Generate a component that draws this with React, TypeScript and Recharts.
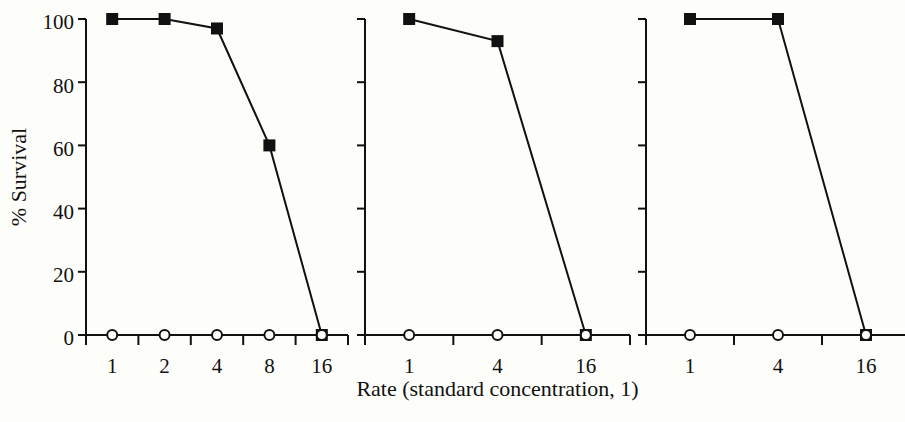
import React from "react";
import { LineChart, Line, XAxis, YAxis } from "recharts";

// rates (standard concentration = 1) shown in each panel
const ratesA = [1, 2, 4, 8, 16];
const ratesB = [1, 4, 16];
const ratesC = [1, 4, 16];

// % survival, filled squares
const squaresA = [100, 100, 97, 60, 0];
const squaresB = [100, 93, 0];
const squaresC = [100, 100, 0];

// % survival, open circles
const circlesA = [0, 0, 0, 0, 0];
const circlesB = [0, 0, 0];
const circlesC = [0, 0, 0];

const yTicks = [0, 20, 40, 60, 80, 100];

const FONT = '"Liberation Serif", "Times New Roman", serif';
const INK = "#111";

function buildRows(rates: number[], squares: number[], circles: number[]) {
  return rates.map((rate, i) => ({
    pos: i + 0.5,
    rate,
    squares: squares[i],
    circles: circles[i],
  }));
}

function tickPositions(n: number) {
  const out: number[] = [];
  for (let i = 0; i <= n * 2; i++) out.push(i / 2);
  return out;
}

const X_TICK = 10;

// tick marks sit on band edges, labels sit on band centres
function XTick(props: any) {
  const { x, y, payload, rates } = props;
  const v = payload.value;
  if (v % 1 === 0) {
    return <line x1={x} x2={x} y1={y - X_TICK} y2={y} stroke={INK} strokeWidth={2} />;
  }
  return (
    <text x={x} y={y + 28} textAnchor="middle" fill={INK} fontSize={21} fontFamily={FONT}>
      {rates[Math.floor(v)]}
    </text>
  );
}

function SquareDot(props: any) {
  const { cx, cy } = props;
  if (cx == null || cy == null) return null;
  return <rect x={cx - 6} y={cy - 6} width={12} height={12} fill={INK} />;
}

type PanelProps = {
  left: number;
  width: number;
  right: number;
  yWidth: number;
  rates: number[];
  squares: number[];
  circles: number[];
  showYLabels?: boolean;
  xTitle?: string;
};

function Panel({ left, width, right, yWidth, rates, squares, circles, showYLabels, xTitle }: PanelProps) {
  const rows = buildRows(rates, squares, circles);
  return (
    <div style={{ position: "absolute", left, top: 0 }}>
      <LineChart
        width={width}
        height={422}
        data={rows}
        margin={{ top: 19, right, bottom: 22, left: 0 }}
        style={{ overflow: "visible" }}
      >
        <XAxis
          type="number"
          dataKey="pos"
          domain={[0, rates.length]}
          ticks={tickPositions(rates.length)}
          interval={0}
          height={65}
          tickSize={X_TICK}
          tickMargin={0}
          tickLine={false}
          axisLine={{ stroke: INK, strokeWidth: 2 }}
          tick={(p: any) => <XTick {...p} rates={rates} />}
          label={
            xTitle
              ? {
                  value: xTitle,
                  position: "insideBottom",
                  offset: 4,
                  fill: INK,
                  fontSize: 22,
                  fontFamily: FONT,
                }
              : undefined
          }
        />
        <YAxis
          type="number"
          domain={[0, 100]}
          ticks={yTicks}
          interval={0}
          width={yWidth}
          tickSize={8}
          tickMargin={4}
          axisLine={{ stroke: INK, strokeWidth: 2 }}
          tickLine={{ stroke: INK, strokeWidth: 2 }}
          tick={{ fill: INK, fontSize: 21, fontFamily: FONT, dy: 3 }}
          tickFormatter={(v) => (showYLabels ? String(v) : "")}
          label={
            showYLabels
              ? {
                  value: "% Survival",
                  angle: -90,
                  position: "insideLeft",
                  offset: 18,
                  fill: INK,
                  fontSize: 22,
                  fontFamily: FONT,
                  style: { textAnchor: "middle" },
                }
              : undefined
          }
        />
        <Line
          dataKey="squares"
          stroke={INK}
          strokeWidth={2}
          dot={<SquareDot />}
          activeDot={false}
          isAnimationActive={false}
        />
        <Line
          dataKey="circles"
          stroke={INK}
          strokeWidth={2}
          dot={{ r: 5, fill: "#fff", stroke: INK, strokeWidth: 2 }}
          activeDot={false}
          isAnimationActive={false}
        />
      </LineChart>
    </div>
  );
}

export default function App() {
  return (
    <div
      style={{
        position: "absolute",
        left: 0,
        top: 0,
        width: 905,
        height: 422,
        overflow: "hidden",
        background: "#fdfdfa",
        fontFamily: FONT,
      }}
    >
      <Panel left={0} width={354} right={6} yWidth={86} rates={ratesA} squares={squaresA} circles={circlesA} showYLabels />
      <Panel left={626} width={290} right={6} yWidth={20} rates={ratesC} squares={squaresC} circles={circlesC} />
      <Panel
        left={345}
        width={325}
        right={40}
        yWidth={20}
        rates={ratesB}
        squares={squaresB}
        circles={circlesB}
        xTitle="Rate (standard concentration, 1)"
      />
    </div>
  );
}
